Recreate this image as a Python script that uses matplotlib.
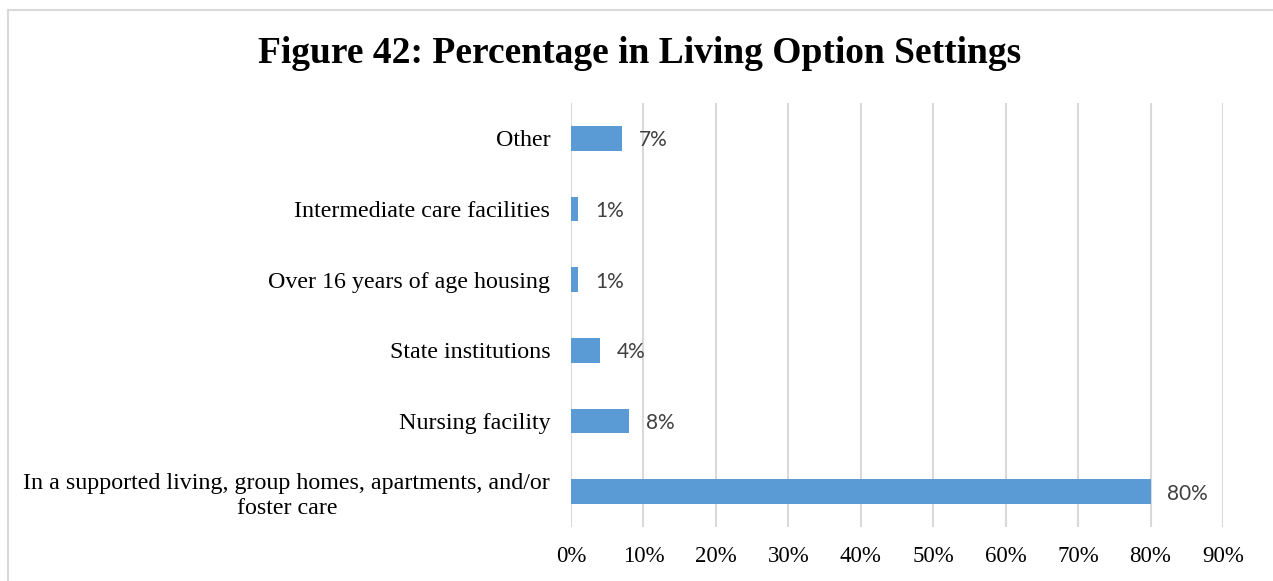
import matplotlib
matplotlib.use("Agg")
import matplotlib.pyplot as plt
from matplotlib.lines import Line2D
from matplotlib.transforms import ScaledTranslation

categories = [
    "In a supported living, group homes, apartments, and/or\nfoster care",
    "Nursing facility",
    "State institutions",
    "Over 16 years of age housing",
    "Intermediate care facilities",
    "Other",
]
values = [80, 8, 4, 1, 1, 7]
xticks = [0, 10, 20, 30, 40, 50, 60, 70, 80, 90]
xtick_labels = [f"{t}%" for t in xticks]
value_labels = [f"{v}%" for v in values]
title = "Figure 42: Percentage in Living Option Settings"

W, H = 1273, 581
fig = plt.figure(figsize=(W / 100, H / 100), dpi=100)
fig.patch.set_facecolor("white")

# outer chart frame (left and top edges)
frame_col = "#D9D9D9"
fig.add_artist(Line2D([7.5 / W, 7.5 / W], [0, 1 - 9.5 / H], transform=fig.transFigure,
                      color=frame_col, lw=1.5))
fig.add_artist(Line2D([7.5 / W, 1], [1 - 9.5 / H, 1 - 9.5 / H], transform=fig.transFigure,
                      color=frame_col, lw=1.5))

ax = fig.add_axes([571 / W, 1 - 527 / H, (1223 - 571) / W, (527 - 103) / H])
ypos = list(range(len(categories)))
ax.barh(ypos, values, height=0.35, color="#5B9BD5", zorder=3)

ax.set_xlim(0, 90)
ax.set_ylim(-0.5, len(categories) - 0.5)
ax.set_xticks(xticks)
ax.set_xticklabels(xtick_labels)
ax.set_yticks(ypos)
ax.set_yticklabels(categories, multialignment="center", linespacing=1.27)

serif = ["Liberation Serif", "DejaVu Serif"]
for lab in ax.get_xticklabels():
    lab.set_family(serif)
    lab.set_fontsize(16.5)
    lab.set_color("black")
shift = ScaledTranslation(0, -1.5 / 72, fig.dpi_scale_trans)
for lab in ax.get_yticklabels():
    lab.set_family(serif)
    lab.set_fontsize(17.3)
    lab.set_color("black")
    lab.set_transform(lab.get_transform() + shift)

ax.tick_params(axis="both", length=0)
ax.tick_params(axis="y", pad=15)
ax.tick_params(axis="x", pad=14)
ax.grid(axis="x", color="#D9D9D9", lw=1.5, zorder=0)
for s in ax.spines.values():
    s.set_visible(False)

for y, v, lab in zip(ypos, values, value_labels):
    ax.annotate(lab, (v, y), xytext=(12, -1.5), textcoords="offset points",
                ha="left", va="center", fontsize=15, color="#404040",
                family=["Lato", "DejaVu Sans"])

fig.text(640 / W, 1 - 53.5 / H, title, ha="center", va="center",
         fontsize=27, fontweight="bold", family=serif)

fig.savefig("out.png", dpi=100, facecolor="white")
